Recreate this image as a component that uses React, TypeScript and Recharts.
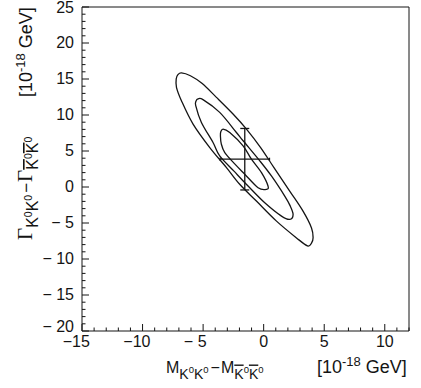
import { ScatterChart, Scatter, XAxis, YAxis, ErrorBar, ReferenceLine } from 'recharts'

// axis ranges and labelled ticks
const xDomain = [-15, 12]
const yDomain = [-20, 25]
const xMajor = [-15, -10, -5, 0, 5, 10]
const xLabels = ['−15', '−10', '− 5', '0', '5', '10']
const yMajor = [-20, -15, -10, -5, 0, 5, 10, 15, 20, 25]
const yLabels = ['− 20', '− 15', '− 10', '− 5', '0', '5', '10', '15', '20', '25']

// contour lines (inner, middle, outer)
const contour1 = [
  { x: -3.35, y: 8.05 }, { x: -2.8, y: 7.57 }, { x: -1.7, y: 5.72 }, { x: -1.01, y: 3.86 },
  { x: -0.18, y: 1.99 }, { x: 0.36, y: 0.14 }, { x: 0.23, y: -0.32 }, { x: -0.46, y: -0.1 },
  { x: -1.56, y: 1.77 }, { x: -2.39, y: 3.21 }, { x: -3.21, y: 4.78 }, { x: -3.5, y: 6.0 },
  { x: -3.57, y: 7.11 }, { x: -3.54, y: 7.67 },
]
const contour2 = [
  { x: -5.42, y: 12.23 }, { x: -5.01, y: 12.13 }, { x: -3.63, y: 10.36 }, { x: -2.25, y: 7.57 },
  { x: -1.7, y: 6.42 }, { x: -0.32, y: 3.63 }, { x: 0.64, y: 1.53 }, { x: 1.74, y: -1.26 },
  { x: 2.17, y: -2.55 }, { x: 2.43, y: -3.81 }, { x: 2.15, y: -4.5 }, { x: 1.47, y: -4.04 },
  { x: 0.09, y: -2.19 }, { x: -1.29, y: 0.14 }, { x: -2.45, y: 2.2 }, { x: -3.63, y: 4.32 },
  { x: -4.18, y: 6.18 }, { x: -5.14, y: 8.97 }, { x: -5.61, y: 11.3 }, { x: -5.58, y: 11.95 },
]
const contour3 = [
  { x: -6.79, y: 15.85 }, { x: -6.05, y: 15.45 }, { x: -5.1, y: 14.4 }, { x: -3.9, y: 12.45 },
  { x: -2.53, y: 10.14 }, { x: -1.42, y: 8.05 }, { x: -0.25, y: 5.48 }, { x: 0.85, y: 2.69 },
  { x: 2.15, y: -0.56 }, { x: 3.25, y: -3.35 }, { x: 3.95, y: -5.68 }, { x: 4.08, y: -7.05 },
  { x: 3.95, y: -7.8 }, { x: 3.62, y: -8.18 }, { x: 2.71, y: -7.07 }, { x: 1.06, y: -4.74 },
  { x: -0.6, y: -1.95 }, { x: -1.98, y: 0.38 }, { x: -3.07, y: 2.69 }, { x: -4.45, y: 5.48 },
  { x: -5.83, y: 8.74 }, { x: -6.79, y: 11.99 }, { x: -7.2, y: 13.85 }, { x: -7.22, y: 15.02 },
  { x: -7.08, y: 15.6 },
]
// best fit point with its errors
const fitPoint = [{ x: -1.56, y: 3.86, ex: 2.04, ey: 4.27 }]

const xTicks: number[] = []
for (let v = xDomain[0]; v <= xDomain[1]; v++) xTicks.push(v)
const yTicks: number[] = []
for (let v = yDomain[0]; v <= yDomain[1]; v++) yTicks.push(v)

const sans = '"Liberation Sans", Arial, Helvetica, sans-serif'
const serif = '"Liberation Serif", "Times New Roman", serif'
const ink = '#141414'

// closed catmull-rom through the read points
function closedSpline(ctx: any) {
  let pts: number[][] = []
  return {
    areaStart() {},
    areaEnd() {},
    lineStart() { pts = [] },
    point(x: number, y: number) { pts.push([+x, +y]) },
    lineEnd() {
      const n = pts.length
      if (!n) return
      ctx.moveTo(pts[0][0], pts[0][1])
      for (let i = 0; i < n; i++) {
        const p0 = pts[(i - 1 + n) % n], p1 = pts[i], p2 = pts[(i + 1) % n], p3 = pts[(i + 2) % n]
        ctx.bezierCurveTo(
          p1[0] + (p2[0] - p0[0]) / 6, p1[1] + (p2[1] - p0[1]) / 6,
          p2[0] - (p3[0] - p1[0]) / 6, p2[1] - (p3[1] - p1[1]) / 6,
          p2[0], p2[1],
        )
      }
      ctx.closePath()
    },
  }
}

const noDot = () => <g />

function XTick({ x, y, payload }: any) {
  const i = xMajor.indexOf(payload.value)
  const major = i >= 0
  const label = major ? xLabels[i] : ''
  const neg = payload.value < 0
  const digits = label.replace(/[^0-9]/g, '').length
  return (
    <g>
      <line x1={x} x2={x} y1={y} y2={y - (major ? 7 : 3.5)} stroke={ink} />
      {major && (
        <text x={neg ? x + digits * 4.45 - 1 : x} y={y + 16} textAnchor={neg ? 'end' : 'middle'}
          fontSize={16} fontFamily={sans} fill={ink}>{label}</text>
      )}
    </g>
  )
}

function YTick({ x, y, payload }: any) {
  const i = yMajor.indexOf(payload.value)
  const major = i >= 0
  const base = payload.value === yDomain[0] ? 1 : payload.value === yDomain[1] ? 6 : 5
  return (
    <g>
      <line x1={x} x2={x + (major ? 7 : 3.5)} y1={y} y2={y} stroke={ink} />
      {major && (
        <text x={x - 8} y={y + base} textAnchor="end" fontSize={16} fontFamily={sans} fill={ink}>{yLabels[i]}</text>
      )}
    </g>
  )
}

function XTitle() {
  const bar = { textDecoration: 'overline' }
  return (
    <g fill={ink} fontFamily={sans}>
      <text x={166} y={373}>
        <tspan fontSize={16}>M</tspan>
        <tspan fontSize={14} dy={5.5}>K</tspan>
        <tspan fontSize={9.5} dy={-5.5}>0</tspan>
        <tspan fontSize={14} dy={5.5}>K</tspan>
        <tspan fontSize={9.5} dy={-5.5}>0</tspan>
        <tspan fontSize={16} dx={2}>−</tspan>
        <tspan fontSize={16} dx={1}>M</tspan>
        <tspan fontSize={14} dy={5.5} style={bar}>K</tspan>
        <tspan fontSize={9.5} dy={-5.5}>0</tspan>
        <tspan fontSize={14} dy={5.5} style={bar}>K</tspan>
        <tspan fontSize={9.5} dy={-5.5}>0</tspan>
      </text>
      <text x={317} y={373} fontSize={18}>
        [10<tspan fontSize={13} dy={-7}>-18</tspan><tspan dy={7}> GeV]</tspan>
      </text>
    </g>
  )
}

function YTitle() {
  const bar = { textDecoration: 'overline' }
  return (
    <g fill={ink} fontFamily={sans}>
      <text transform="translate(32,240) rotate(-90)">
        <tspan fontSize={21} fontFamily={serif}>Γ</tspan>
        <tspan fontSize={16} dy={6}>K</tspan>
        <tspan fontSize={10.5} dy={-6}>0</tspan>
        <tspan fontSize={16} dy={6}>K</tspan>
        <tspan fontSize={10.5} dy={-6}>0</tspan>
        <tspan fontSize={17} dx={2}>−</tspan>
        <tspan fontSize={21} fontFamily={serif} dx={1}>Γ</tspan>
        <tspan fontSize={16} dy={6} style={bar}>K</tspan>
        <tspan fontSize={10.5} dy={-6}>0</tspan>
        <tspan fontSize={16} dy={6} style={bar}>K</tspan>
        <tspan fontSize={10.5} dy={-6}>0</tspan>
      </text>
      <text transform="translate(32,97) rotate(-90)" fontSize={18}>
        [10<tspan fontSize={13} dy={-7}>-18</tspan><tspan dy={7}> GeV]</tspan>
      </text>
    </g>
  )
}

export default function App() {
  const lineStyle = { stroke: ink, strokeWidth: 1.3 }
  return (
    <div style={{ position: 'absolute', left: 0, top: 0, width: 421, height: 388, background: '#fff' }}>
      <ScatterChart width={421} height={388} margin={{ top: 7, right: 12, bottom: 0, left: 0 }}>
        <XAxis type="number" dataKey="x" domain={xDomain} allowDataOverflow ticks={xTicks} interval={0}
          tick={<XTick />} tickLine={false} tickSize={0} tickMargin={0} height={57}
          axisLine={{ stroke: ink }} label={<XTitle />} />
        <YAxis type="number" dataKey="y" domain={yDomain} allowDataOverflow ticks={yTicks} interval={0}
          tick={<YTick />} tickLine={false} tickSize={0} tickMargin={0} width={82}
          axisLine={{ stroke: ink }} label={<YTitle />} />
        <ReferenceLine y={yDomain[1]} stroke={ink} />
        <ReferenceLine x={xDomain[1]} stroke={ink} />
        <Scatter data={contour3} line={lineStyle} lineJointType={closedSpline as any} shape={noDot} isAnimationActive={false} />
        <Scatter data={contour2} line={lineStyle} lineJointType={closedSpline as any} shape={noDot} isAnimationActive={false} />
        <Scatter data={contour1} line={lineStyle} lineJointType={closedSpline as any} shape={noDot} isAnimationActive={false} />
        <Scatter data={fitPoint} shape={noDot} isAnimationActive={false}>
          <ErrorBar dataKey="ex" direction="x" width={1.5} stroke={ink} strokeWidth={1.3} />
          <ErrorBar dataKey="ey" direction="y" width={4.5} stroke={ink} strokeWidth={1.3} />
        </Scatter>
      </ScatterChart>
    </div>
  )
}
